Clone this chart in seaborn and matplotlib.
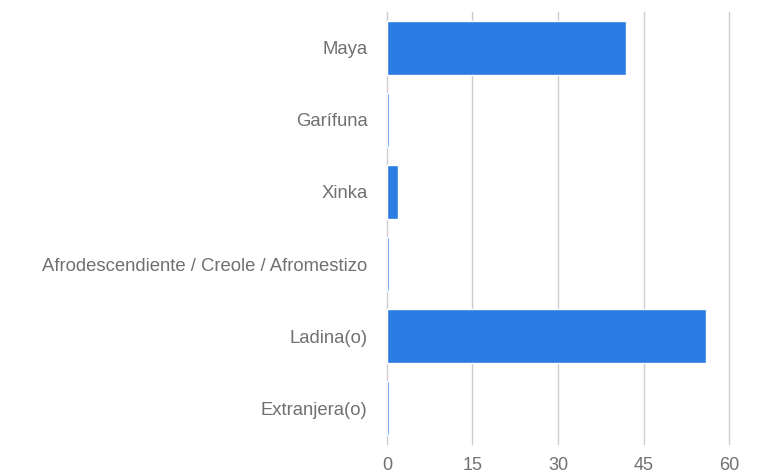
import pandas as pd
import matplotlib.pyplot as plt
import seaborn as sns

# categories and values (percent)
categories = ['Maya', 'Garífuna', 'Xinka', 'Afrodescendiente / Creole / Afromestizo',
              'Ladina(o)', 'Extranjera(o)']
values = [41.9, 0.4, 2.0, 0.4, 55.9, 0.4]
x_ticks = [0, 15, 30, 45, 60]

df = pd.DataFrame({'grupo': categories, 'pct': values})

sns.set_style('white')
plt.rcParams['font.family'] = ['Liberation Sans', 'DejaVu Sans']

fig = plt.figure(figsize=(7.63, 4.75), dpi=100)
ax = fig.add_axes([0.507, 0.065, 0.449, 0.91])

sns.barplot(data=df, y='grupo', x='pct', orient='h', color='#2b7ce2',
            saturation=1, width=0.75, ax=ax)

ax.set_xlim(0, 60)
ax.set_xticks(x_ticks)
ax.grid(axis='x', color='#cccccc', linewidth=1)
for gl in ax.get_xgridlines():
    gl.set_clip_on(False)
ax.set_axisbelow(True)
ax.axvline(0, color='#c8c8c8', linewidth=1.2, zorder=0)
for s in ax.spines.values():
    s.set_visible(False)

ax.set_xlabel('')
ax.set_ylabel('')
ax.tick_params(axis='y', length=0, pad=14, labelsize=13.3, labelcolor='#707070')
ax.tick_params(axis='x', length=0, pad=9, labelsize=13, labelcolor='#707070')

fig.savefig('out.png', dpi=100)
